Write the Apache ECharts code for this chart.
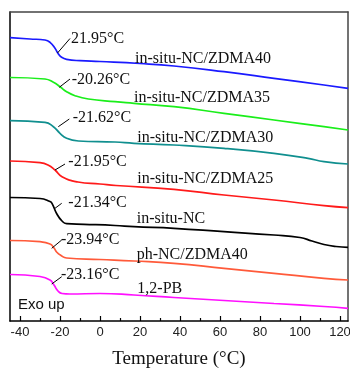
<!DOCTYPE html>
<html><head><meta charset="utf-8">
<script src="https://cdn.jsdelivr.net/npm/echarts@6/dist/echarts.min.js"></script>
<style>html,body{margin:0;padding:0;background:#fff}#c{width:350px;height:369px}</style>
</head><body><div id="c"></div>
<script>
// Temperature (°C) sample points and DSC heat-flow readings (arbitrary units, exo up) per curve
const zdma40T = [-45,-35,-27.5,-25,-22.5,-20.8,-19.2,-16.7,-10,0,20,37,62,87,112,124];
const zdma40Y = [283.3,282,281,278.7,272.7,267,263.7,261.7,260.3,259.5,257.5,255,249.3,242.7,236,232.7];
const zdma35T = [-45,-27.5,-23.3,-20,-16.7,-12.5,-5.8,7.5,17,37,62,87,112,124];
const zdma35Y = [243.5,242,238.7,234.3,229.3,225.3,222,219.3,217.7,214.3,207.7,201,194.3,191];
const zdma30T = [-45,-27.5,-23.3,-20,-16.7,-10.8,7.5,17,37,62,87,104,112,124];
const zdma30Y = [200.3,198.7,194.3,187.7,182.7,180,179,177.7,176,172.7,167.7,162.7,159.3,157];
const zdma25T = [-45,-30,-26,-22.5,-19,-11,0,8,37,62,87,112,124];
const zdma25Y = [160,158.3,156,151,144.3,139,137,135.5,131.7,126,121,115.3,113.3];
const ncT = [-45,-30,-25,-24,-21.7,-19,-16.7,-8,7.5,17,37,62,87,100,106,112,118,124];
const ncY = [123.5,122.5,119.5,117.7,107.5,100,97.3,96.7,95.5,94.3,92.7,89.3,86,83.5,80,76.5,74.5,73.7];
const phT = [-45,-30,-25,-23,-21.7,-19.5,-16.7,0,17,37,62,87,112,124];
const phY = [80.5,79.3,77,73,69,65.5,63,61.5,60,57.7,52.7,47.7,42.7,41];
const pbT = [-45,-30,-25,-23,-21,-19,-15,0,17,37,62,87,112,124];
const pbY = [46.5,44.5,41,36,30,27.5,27,27.5,26,23.5,20.5,17.5,14.5,12.7];

const seriesNames = ['in-situ-NC/ZDMA40','in-situ-NC/ZDMA35','in-situ-NC/ZDMA30','in-situ-NC/ZDMA25','in-situ-NC','ph-NC/ZDMA40','1,2-PB'];
const tgLabels = ['21.95°C','-20.26°C','-21.62°C','-21.95°C','-21.34°C','-23.94°C','-23.16°C'];
// label anchor positions (data coords)
const tgLabelPos = [[-14.5,282.7],[-14.15,241],[-13.65,203.7],[-15.85,159.3],[-15.85,118.7],[-19.5,81],[-19.5,46]];
const nameLabelPos = [[17.5,262.7],[17,223.7],[18.65,183.7],[18.65,142.7],[18.35,102.7],[18.35,66],[18.65,32]];
// arrows from curve to label (data coords)
const arrowFrom = [[-21.25,268],[-20.35,233.7],[-20.85,194.3],[-22.5,151],[-22.5,112.7],[-24.15,72.7],[-24.15,37]];
const arrowTo = [[-15,282.5],[-15,242],[-15.35,202],[-17.5,157],[-19.15,117.7],[-19.15,81],[-19.15,44.3]];
const majorTicks = [-40,-20,0,20,40,60,80,100,120];
const minorTicks = [-30,-10,10,30,50,70,90,110];

const colors = ['#1a1aff','#1aee1a','#108f8f','#ff1a1a','#000000','#ff5a3a','#ff10ff'];
const xs = [zdma40T,zdma35T,zdma30T,zdma25T,ncT,phT,pbT];
const ys = [zdma40Y,zdma35Y,zdma30Y,zdma25Y,ncY,phY,pbY];

const serif = 'Liberation Serif';
const series = seriesNames.map((n,i)=>({
  name:n, type:'line', xAxisIndex:0, yAxisIndex:0,
  data: xs[i].map((t,k)=>[t, ys[i][k]]),
  smooth:0.5, showSymbol:false, symbol:'none',
  lineStyle:{color:colors[i], width:1.7},
  markLine:{silent:true, symbol:['none','arrow'], symbolSize:[0,9], animation:false,
    lineStyle:{color:'#000', width:1, type:'solid'}, label:{show:false},
    data:[[{coord:arrowFrom[i]},{coord:arrowTo[i]}]]},
  markPoint:{silent:true, animation:false, symbol:'circle', symbolSize:0,
    label:{show:true, position:'right', distance:0, fontFamily:serif, fontSize:16, color:'#111',
      formatter:p=>p.name},
    data:[{name:tgLabels[i], coord:tgLabelPos[i]},{name:n, coord:nameLabelPos[i]}]}
}));

const chart = echarts.init(document.getElementById('c'), null, {renderer:'canvas'});
chart.setOption({
  animation:false,
  backgroundColor:'#fff',
  grid:{left:10, right:2, top:12, bottom:48, containLabel:false, outerBoundsMode:'none'},
  xAxis:[
    {type:'value', min:-45, max:124, position:'bottom',
     axisLine:{show:true, onZero:false, lineStyle:{color:'#000', width:1.5}},
     axisTick:{show:true, inside:true, length:5, customValues:majorTicks, lineStyle:{color:'#000', width:1.2}},
     axisLabel:{show:true, customValues:majorTicks, margin:5, fontFamily:'Liberation Sans', fontSize:13, color:'#222'},
     splitLine:{show:false},
     name:'Temperature (°C)', nameLocation:'middle', nameGap:29,
     nameTextStyle:{fontFamily:serif, fontSize:19, color:'#111'}},
    {type:'value', min:-45, max:124, position:'bottom',
     axisLine:{show:false, onZero:false},
     axisTick:{show:true, inside:true, length:3, customValues:minorTicks, lineStyle:{color:'#000', width:1.2}},
     axisLabel:{show:false}, splitLine:{show:false}},
    {type:'value', min:-45, max:124, position:'top',
     axisLine:{show:true, onZero:false, lineStyle:{color:'#444', width:1.5}},
     axisTick:{show:false}, axisLabel:{show:false}, splitLine:{show:false}}
  ],
  yAxis:[
    {type:'value', min:0, max:309, position:'left',
     axisLine:{show:true, onZero:false, lineStyle:{color:'#000', width:1.5}},
     axisTick:{show:false}, axisLabel:{show:false}, splitLine:{show:false}},
    {type:'value', min:0, max:309, position:'right',
     axisLine:{show:true, onZero:false, lineStyle:{color:'#444', width:1.5}},
     axisTick:{show:false}, axisLabel:{show:false}, splitLine:{show:false}}
  ],
  graphic:[{type:'text', left:18, top:297, style:{text:'Exo up', font:'15px "Liberation Sans"', fill:'#111'}}],
  series: series
});
</script></body></html>
